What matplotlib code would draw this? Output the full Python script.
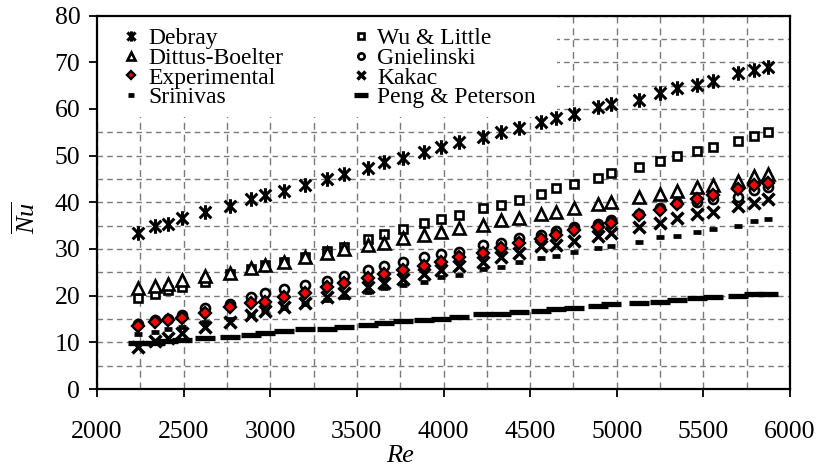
import matplotlib
matplotlib.use('Agg')
import matplotlib.pyplot as plt
from matplotlib.path import Path
from matplotlib.patches import Rectangle
from matplotlib.ticker import MultipleLocator

plt.rcParams['font.family'] = 'serif'
plt.rcParams['font.serif'] = ['Liberation Serif', 'DejaVu Serif']
plt.rcParams['mathtext.fontset'] = 'custom'
plt.rcParams['mathtext.it'] = 'Liberation Serif:italic'
plt.rcParams['mathtext.rm'] = 'Liberation Serif'

# ---------------- data ----------------
Re = [2239, 2334, 2409, 2490, 2624, 2769, 2888, 2971, 3081, 3202, 3325, 3428,
      3562, 3659, 3765, 3890, 3987, 4092, 4227, 4334, 4435, 4565, 4651, 4753,
      4892, 4969, 5129, 5249, 5345, 5461, 5557, 5698, 5792, 5875]

debray = [33.5, 34.9, 35.3, 36.6, 38.0, 39.3, 40.6, 41.6, 42.5, 43.7, 45.0, 46.0,
          47.3, 48.7, 49.4, 50.8, 51.9, 52.8, 54.0, 55.0, 55.8, 57.2, 58.0, 58.9,
          60.3, 61.0, 62.0, 63.5, 64.4, 65.1, 66.0, 67.6, 68.3, 69.0]
wu_little = [19.4, 20.3, 21.2, 21.9, 23.0, 24.6, 25.7, 26.6, 27.3, 28.2, 29.6, 30.5,
             32.1, 33.3, 34.2, 35.5, 36.4, 37.3, 38.7, 39.4, 40.5, 41.8, 43.0, 43.9,
             45.3, 46.2, 47.5, 48.9, 49.8, 51.0, 51.9, 53.2, 54.2, 55.0]
dittus = [21.6, 22.1, 22.5, 23.3, 24.2, 24.8, 25.9, 26.6, 27.3, 28.2, 29.1, 29.9,
          30.8, 31.2, 32.3, 33.0, 33.7, 34.4, 35.1, 36.2, 36.6, 37.4, 38.0, 38.8,
          39.6, 40.1, 41.1, 41.8, 42.5, 43.3, 43.7, 44.6, 45.6, 46.0]
gnielinski = [13.9, 14.7, 15.1, 15.9, 17.3, 18.2, 19.8, 20.5, 21.4, 22.3, 23.1, 24.1,
              25.5, 26.4, 27.3, 28.2, 28.9, 29.4, 30.8, 31.3, 32.3, 33.0, 33.8, 34.8,
              35.3, 36.3, 37.5, 38.7, 39.8, 40.1, 40.6, 41.2, 42.7, 43.2]
experimental = [13.6, 14.4, 14.8, 15.3, 16.2, 17.5, 18.4, 18.7, 19.8, 20.6, 21.9, 22.8,
                23.7, 24.6, 25.5, 26.3, 27.3, 28.2, 29.1, 30.3, 31.3, 32.1, 33.0, 34.1,
                34.8, 35.6, 37.3, 38.3, 39.6, 40.7, 41.6, 42.8, 43.6, 44.2]
kakac = [9.1, 10.3, 10.9, 11.9, 13.3, 14.4, 15.8, 16.6, 17.5, 18.4, 19.8, 20.6,
         21.9, 22.6, 23.5, 24.6, 25.5, 26.3, 27.3, 28.2, 29.1, 30.6, 30.8, 31.8,
         32.8, 33.5, 34.8, 35.6, 36.6, 37.5, 38.0, 39.2, 39.8, 40.6]
srinivas = [11.7, 12.3, 12.9, 13.3, 14.3, 15.1, 15.9, 16.6, 17.4, 18.2, 19.0, 19.8,
            20.8, 21.7, 22.3, 23.0, 23.9, 24.4, 25.6, 26.2, 27.1, 28.0, 28.5, 29.3,
            30.1, 30.6, 31.5, 32.5, 32.8, 33.7, 34.2, 35.0, 36.0, 36.4]
peng = [9.8, 9.8, 10.3, 10.5, 10.9, 11.2, 11.6, 11.9, 12.4, 12.8, 12.8, 13.2,
        13.7, 14.2, 14.6, 14.8, 15.0, 15.5, 16.0, 16.0, 16.4, 16.8, 17.1, 17.3,
        17.8, 18.2, 18.5, 18.7, 19.1, 19.4, 19.6, 20.0, 20.3, 20.3]

x_ticks = [2000, 2500, 3000, 3500, 4000, 4500, 5000, 5500, 6000]
y_ticks = [0, 10, 20, 30, 40, 50, 60, 70, 80]

# ---------------- figure ----------------
fig = plt.figure(figsize=(8.18, 4.66), dpi=100)
ax = fig.add_axes([97 / 818, 1 - 389 / 466, (790 - 97) / 818, (389 - 15.5) / 466])

star = Path([(-1, -1), (1, 1), (-1, 1), (1, -1), (0, -1.25), (0, 1.25)],
            [Path.MOVETO, Path.LINETO, Path.MOVETO, Path.LINETO, Path.MOVETO, Path.LINETO])

h = {}
h['Debray'], = ax.plot(Re, debray, ls='none', marker=star, ms=10.5, mfc='none',
                       mec='black', mew=2.2)
h['Wu & Little'], = ax.plot(Re, wu_little, ls='none', marker='s', ms=6, mfc='white',
                            mec='black', mew=1.9)
h['Dittus-Boelter'], = ax.plot(Re, dittus, ls='none', marker='^', ms=8, mfc='white',
                               mec='black', mew=1.9)
h['Gnielinski'], = ax.plot(Re, gnielinski, ls='none', marker='o', ms=6.5, mfc='white',
                           mec='black', mew=1.9)
h['Experimental'], = ax.plot(Re, experimental, ls='none', marker='D', ms=6.2, mfc='red',
                             mec='black', mew=1.7)
h['Kakac'], = ax.plot(Re, kakac, ls='none', marker='x', ms=8.5, mec='black', mew=2.5)
h['Srinivas'], = ax.plot(Re, srinivas, ls='none', marker='_', ms=6, mec='black', mew=3.4)
h['Peng & Peterson'], = ax.plot(Re, peng, ls='none', marker='_', ms=15, mec='black', mew=3.8)

ax.set_xlim(2000, 6000)
ax.set_ylim(0, 80)
ax.set_xticks(x_ticks)
ax.set_yticks(y_ticks)
ax.xaxis.set_minor_locator(MultipleLocator(250))
ax.yaxis.set_minor_locator(MultipleLocator(5))
ax.tick_params(which='major', direction='out', length=6, width=1.3, labelsize=18.5)
ax.tick_params(axis='x', which='major', pad=17)
ax.tick_params(axis='y', which='major', pad=6)
ax.tick_params(which='minor', length=0)
ax.tick_params(top=False, right=False)

ax.xaxis.grid(True, which='both', color='#7a7a7a', lw=1.0, ls=(0, (5, 3.5)))
ax.yaxis.grid(True, which='both', color='#7a7a7a', lw=1.0, ls=(0, (4, 3)))
ax.set_axisbelow(True)

for s in ax.spines.values():
    s.set_linewidth(1.6)
    s.set_color('black')

ax.set_xlabel('Re', fontsize=19, fontstyle='italic')
ax.xaxis.set_label_coords(0.437, -0.15)
ax.set_ylabel(r'$\overline{Nu}$', fontsize=19)
ax.yaxis.set_label_coords(-0.082, 0.46)

# white background behind legend (covers grid)
ax.add_patch(Rectangle((0, 0.728), 0.664, 0.272, transform=ax.transAxes,
                       facecolor='white', edgecolor='none', zorder=1.8))

order = ['Debray', 'Dittus-Boelter', 'Experimental', 'Srinivas',
         'Wu & Little', 'Gnielinski', 'Kakac', 'Peng & Peterson']
leg = ax.legend([h[k] for k in order], order, ncol=2, loc='upper left',
                bbox_to_anchor=(0.036, 0.967), borderaxespad=0, borderpad=0,
                frameon=False, fontsize=17, handlelength=0.8, handletextpad=0.3,
                columnspacing=2.9, labelspacing=-0.08, markerscale=0.7, numpoints=1)

fig.savefig('out.png', dpi=100)
